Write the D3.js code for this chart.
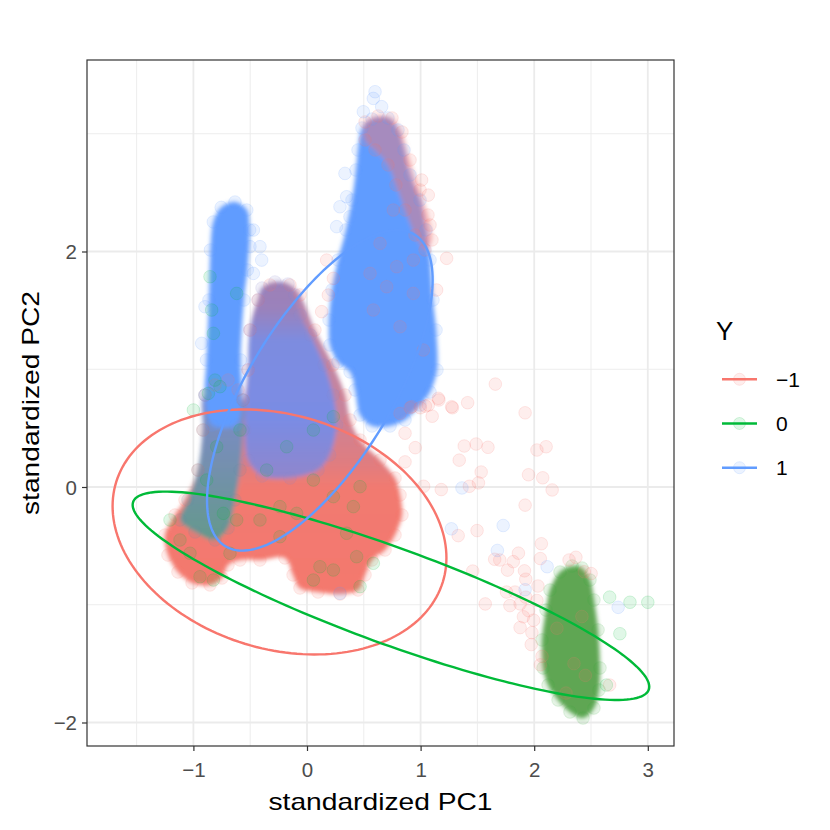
<!DOCTYPE html>
<html>
<head>
<meta charset="utf-8">
<script src="https://cdn.jsdelivr.net/npm/d3@7.9.0/dist/d3.min.js"></script>
<style>
  body { margin: 0; background: #fff; }
  svg { font-family: "Liberation Sans", Arial, sans-serif; }
</style>
</head>
<body>
<svg id="chart" width="830" height="830"></svg>
<script>
// axis ticks
const xTicks = [-1, 0, 1, 2, 3];
const xMinor = [-1.5, -0.5, 0.5, 1.5, 2.5];
const yTicks = [-2, 0, 2];
const yMinor = [-1, 1, 3];

const groups = ['-1', '0', '1'];
const groupLabels = ['\u22121', '0', '1'];
const groupColors = ['#F8766D', '#00BA38', '#619CFF'];

// dense regions of overlapping points, outlines (PC1, PC2)
const redBase = [[-1.250,-0.408],[-1.224,-0.578],[-1.136,-0.722],[-1.012,-0.815],[-0.854,-0.832],[-0.748,-0.773],[-0.695,-0.662],[-0.590,-0.620],[-0.414,-0.620],[-0.194,-0.603],[-0.123,-0.747],[-0.062,-0.858],[0.097,-0.892],[0.291,-0.909],[0.449,-0.875],[0.511,-0.747],[0.572,-0.620],[0.687,-0.535],[0.775,-0.408],[0.836,-0.238],[0.819,-0.068],[0.775,0.076],[0.643,0.229],[0.467,0.399],[0.379,0.569],[0.335,0.781],[0.229,1.036],[0.070,1.333],[-0.062,1.631],[-0.150,1.716],[-0.326,1.716],[-0.431,1.588],[-0.502,1.333],[-0.519,0.994],[-0.563,0.739],[-0.607,0.824],[-0.695,0.909],[-0.810,0.866],[-0.898,0.781],[-0.916,0.484],[-0.960,0.144],[-1.074,-0.110],[-1.162,-0.238]];
const leftColumn = [[-0.898,0.781],[-0.916,0.484],[-0.960,0.144],[-1.048,-0.110],[-1.118,-0.280],[-0.986,-0.382],[-0.810,-0.450],[-0.695,-0.348],[-0.634,-0.110],[-0.590,0.144],[-0.563,0.484],[-0.563,0.739]];
const middleSpike = [[-0.431,1.588],[-0.396,1.690],[-0.282,1.741],[-0.167,1.724],[-0.106,1.631],[-0.060,1.461],[0.030,1.291],[0.150,1.036],[0.230,0.781],[0.260,0.527],[0.200,0.272],[0.097,0.144],[-0.150,0.076],[-0.396,0.093],[-0.519,0.229],[-0.546,0.484],[-0.519,0.994],[-0.502,1.333]];
const leftSpike = [[-0.898,0.781],[-0.885,1.079],[-0.863,1.588],[-0.850,2.013],[-0.825,2.251],[-0.755,2.375],[-0.634,2.420],[-0.530,2.352],[-0.505,2.183],[-0.525,1.843],[-0.555,1.588],[-0.585,1.079],[-0.572,0.739],[-0.625,0.527],[-0.836,0.527]];
const rightBlob = [[0.484,3.049],[0.572,3.125],[0.713,3.134],[0.801,3.032],[0.854,2.862],[0.907,2.650],[0.995,2.437],[1.048,2.183],[1.083,1.928],[1.109,1.588],[1.136,1.333],[1.144,0.994],[1.083,0.807],[0.995,0.696],[0.863,0.569],[0.731,0.518],[0.572,0.518],[0.467,0.611],[0.423,0.824],[0.379,0.977],[0.273,1.062],[0.202,1.206],[0.194,1.418],[0.220,1.673],[0.273,1.928],[0.343,2.183],[0.396,2.437],[0.431,2.692],[0.449,2.862]];
const rightTipRed = [[0.511,3.100],[0.625,3.151],[0.748,3.134],[0.836,3.015],[0.907,2.777],[0.995,2.522],[1.065,2.310],[1.100,2.098],[1.039,2.013],[0.951,2.140],[0.863,2.352],[0.783,2.565],[0.713,2.735],[0.599,2.862],[0.511,2.947]];
const greenBlob = [[2.333,-0.671],[2.421,-0.688],[2.491,-0.790],[2.526,-0.960],[2.562,-1.214],[2.579,-1.537],[2.570,-1.724],[2.526,-1.877],[2.430,-1.962],[2.315,-1.911],[2.210,-1.809],[2.122,-1.682],[2.078,-1.537],[2.069,-1.299],[2.104,-1.045],[2.139,-0.875],[2.227,-0.722]];

// single points that stand out from the dense regions
const redPoints = [[1.658,0.874],[1.161,0.739],[1.414,0.716],[1.280,0.673],[1.102,0.601],[0.908,0.673],[0.997,0.673],[1.042,0.687],[1.920,0.630],[0.863,0.457],[0.953,0.334],[1.384,0.348],[1.489,0.365],[1.593,0.337],[1.340,0.228],[0.863,0.213],[2.024,0.314],[2.105,0.342],[1.950,0.104],[2.075,0.078],[2.158,-0.025],[1.533,0.127],[1.509,0.035],[1.429,0.006],[1.182,-0.022],[1.027,0.006],[1.920,-0.154],[1.331,-0.413],[1.497,-0.370],[2.063,-0.482],[1.861,-0.562],[1.652,-0.614],[1.697,-0.620],[1.816,-0.634],[1.765,-0.706],[2.054,-0.608],[1.914,-0.712],[1.926,-0.783],[1.459,-0.714],[1.569,-0.993],[1.756,-0.892],[1.831,-0.892],[1.786,-1.007],[2.033,-0.841],[2.024,-0.964],[1.926,-0.936],[1.876,-0.993],[1.950,-1.050],[1.905,-1.102],[1.995,-1.131],[1.876,-1.194],[1.980,-1.237],[1.974,-1.338],[2.069,-1.438],[2.054,-1.510],[2.307,-0.620],[2.367,-0.597],[2.441,-0.720],[2.501,-0.735],[2.664,-1.682],[1.229,1.942],[1.141,1.673],[1.068,2.479],[1.009,2.607],[1.083,2.225],[1.156,0.753],[1.273,0.682],[1.068,0.696],[0.921,0.682],[0.819,0.625],[0.188,1.630],[0.129,1.489],[0.173,1.927],[0.232,1.772],[0.643,2.069],[0.789,1.871],[0.936,1.644],[0.584,1.503],[0.819,1.361],[1.024,1.163],[0.936,1.927],[0.701,1.701],[0.555,1.814],[0.760,2.352],[2.200,-1.200],[2.350,-1.500],[2.420,-1.100],[2.280,-1.750],[2.450,-1.600]];
const greenPoints = [[2.664,-0.935],[2.843,-0.979],[3.000,-0.979],[2.754,-1.246],[2.635,-1.682],[-1.000,0.654],[-0.795,0.342],[-0.883,0.059],[-0.736,-0.224],[-0.619,-0.280],[-0.414,-0.280],[-0.238,-0.167],[-0.091,-0.224],[0.056,0.059],[0.232,-0.082],[0.408,-0.167],[0.467,0.003],[0.349,-0.393],[0.437,-0.592],[0.584,-0.648],[0.467,-0.846],[0.232,-0.705],[0.114,-0.677],[0.056,-0.790],[-0.824,-0.790],[-0.942,-0.762],[-1.030,-0.563],[-1.118,-0.450],[-1.206,-0.280],[-0.678,-0.563],[-0.238,-0.422],[-0.355,0.144],[-0.179,0.342],[-0.590,0.484],[0.232,0.597],[0.056,0.484],[-0.854,1.786],[-0.839,1.503],[-0.824,1.305],[-0.810,0.908],[-0.868,0.795],[-0.619,1.644],[-0.766,0.852]];
const bluePoints = [[1.364,-0.008],[1.271,-0.355],[1.727,-0.327],[1.676,-0.539],[1.920,-0.872],[2.114,-0.677],[2.739,-1.022],[0.599,3.357],[0.584,3.300],[0.496,3.187],[0.657,3.230],[0.334,2.663],[0.349,2.465],[0.290,2.380],[0.378,2.295],[0.261,2.211],[-0.898,1.531],[-0.472,2.182],[-0.414,2.041],[-0.399,1.927],[-0.472,1.814],[-0.502,2.041],[-0.927,1.220],[0.290,-0.903]];

// normal-probability ellipses: centre and shape matrix [sxx, sxy, syy]
const ellipseCenters = [[-0.242, -0.382], [0.739, -0.924], [0.113, 0.821]];
const ellipseShapes = [[2.159, -0.3215, 1.0823], [5.170, -1.7553, 0.7831], [0.986, 0.930, 1.853]];

const svg = d3.select('#chart');
const margin = { left: 87, top: 60, right: 674, bottom: 746 };

const x = d3.scaleLinear().domain([-1.9366, 3.2306]).range([margin.left, margin.right]);
const y = d3.scaleLinear().domain([-2.1996, 3.6263]).range([margin.bottom, margin.top]);

const defs = svg.append('defs');
defs.append('clipPath').attr('id', 'panel')
    .append('rect')
    .attr('x', margin.left).attr('y', margin.top)
    .attr('width', margin.right - margin.left).attr('height', margin.bottom - margin.top);
defs.append('filter').attr('id', 'soft')
    .append('feGaussianBlur').attr('stdDeviation', 2.2);

function gradient(id, stops) {
    let g = defs.append('linearGradient').attr('id', id)
        .attr('x1', 0).attr('y1', 0).attr('x2', 0).attr('y2', 1);
    stops.forEach(([off, col]) => g.append('stop').attr('offset', off).attr('stop-color', col));
}
gradient('gRed', [[0, '#B386B0'], [0.4, '#C8849C'], [0.58, '#E07D80'], [0.66, '#F27A70'], [1, '#F4796E']]);
gradient('gMid', [[0, '#9E80B6'], [0.14, '#9A82BC'], [0.3, '#7D8CE0'], [0.7, '#7A8CE4'], [1, '#9086CC']]);
gradient('gLeft', [[0, '#7C8AD0'], [0.5, '#7490AE'], [1, '#64998C']]);

// grid
svg.append('g').selectAll('line').data(xMinor).join('line')
    .attr('x1', (d) => x(d)).attr('x2', (d) => x(d))
    .attr('y1', margin.top).attr('y2', margin.bottom)
    .attr('stroke', '#EBEBEB').attr('stroke-width', 0.9);
svg.append('g').selectAll('line').data(yMinor).join('line')
    .attr('y1', (d) => y(d)).attr('y2', (d) => y(d))
    .attr('x1', margin.left).attr('x2', margin.right)
    .attr('stroke', '#EBEBEB').attr('stroke-width', 0.9);
svg.append('g').selectAll('line').data(xTicks).join('line')
    .attr('x1', (d) => x(d)).attr('x2', (d) => x(d))
    .attr('y1', margin.top).attr('y2', margin.bottom)
    .attr('stroke', '#EBEBEB').attr('stroke-width', 1.8);
svg.append('g').selectAll('line').data(yTicks).join('line')
    .attr('y1', (d) => y(d)).attr('y2', (d) => y(d))
    .attr('x1', margin.left).attr('x2', margin.right)
    .attr('stroke', '#EBEBEB').attr('stroke-width', 1.8);

const plot = svg.append('g').attr('clip-path', 'url(#panel)');

// dense regions
const area = d3.line().x((d) => x(d[0])).y((d) => y(d[1])).curve(d3.curveCatmullRomClosed);
const blobs = [
    { pts: redBase, fill: 'url(#gRed)', edge: '#F8766D' },
    { pts: leftColumn, fill: 'url(#gLeft)', edge: '#6C8FA6' },
    { pts: middleSpike, fill: 'url(#gMid)', edge: '#8C88D0' },
    { pts: leftSpike, fill: '#619CFF', edge: '#619CFF' },
    { pts: rightBlob, fill: '#619CFF', edge: '#619CFF' },
    { pts: rightTipRed, fill: 'rgba(236,122,126,0.5)', edge: '#F8766D' },
    { pts: greenBlob, fill: '#5FA652', edge: '#3FAE45' },
];
const blobLayer = plot.append('g').attr('filter', 'url(#soft)');
blobs.forEach((b) => {
    blobLayer.append('path').attr('d', area(b.pts)).attr('fill', b.fill);
});
blobs.forEach((b) => {
    plot.append('g').selectAll('circle').data(b.pts).join('circle')
        .attr('cx', (d) => x(d[0])).attr('cy', (d) => y(d[1])).attr('r', 6.3)
        .attr('fill', b.edge).attr('fill-opacity', 0.12)
        .attr('stroke', b.edge).attr('stroke-opacity', 0.15);
});

// single points
[redPoints, greenPoints, bluePoints].forEach((pts, i) => {
    plot.append('g').selectAll('circle').data(pts).join('circle')
        .attr('cx', (d) => x(d[0])).attr('cy', (d) => y(d[1])).attr('r', 6.3)
        .attr('fill', groupColors[i]).attr('fill-opacity', 0.12)
        .attr('stroke', groupColors[i]).attr('stroke-opacity', 0.16).attr('stroke-width', 1);
});

// ellipses
const ring = d3.line().x((d) => x(d[0])).y((d) => y(d[1])).curve(d3.curveLinearClosed);
ellipseCenters.forEach((c, i) => {
    let [sxx, sxy, syy] = ellipseShapes[i];
    let l11 = Math.sqrt(sxx), l21 = sxy / l11, l22 = Math.sqrt(syy - l21 * l21);
    let pts = d3.range(0, 361, 2).map((deg) => {
        let t = (deg * Math.PI) / 180;
        return [c[0] + l11 * Math.cos(t), c[1] + l21 * Math.cos(t) + l22 * Math.sin(t)];
    });
    plot.append('path').attr('d', ring(pts))
        .attr('fill', 'none').attr('stroke', groupColors[i]).attr('stroke-width', 2.4);
});

// panel border and axes
svg.append('rect')
    .attr('x', margin.left).attr('y', margin.top)
    .attr('width', margin.right - margin.left).attr('height', margin.bottom - margin.top)
    .attr('fill', 'none').attr('stroke', '#333333').attr('stroke-width', 1.2);

const fmt = (d) => (d < 0 ? '\u2212' + Math.abs(d) : d);
const xAxis = svg.append('g').attr('transform', `translate(0,${margin.bottom})`)
    .call(d3.axisBottom(x).tickValues(xTicks).tickSize(5).tickPadding(5).tickFormat(fmt));
const yAxis = svg.append('g').attr('transform', `translate(${margin.left},0)`)
    .call(d3.axisLeft(y).tickValues(yTicks).tickSize(5).tickPadding(5).tickFormat(fmt));
[xAxis, yAxis].forEach((a) => {
    a.select('.domain').remove();
    a.selectAll('line').attr('stroke', '#333333').attr('stroke-width', 1.2);
    a.selectAll('text').attr('fill', '#4D4D4D').attr('font-size', 20.5)
        .attr('font-family', '"Liberation Sans", Arial, sans-serif');
});
xAxis.selectAll('text').attr('dy', null).attr('y', 31);
yAxis.selectAll('text').attr('dy', '0.36em');

svg.append('text').attr('x', (margin.left + margin.right) / 2).attr('y', 810)
    .attr('text-anchor', 'middle').attr('font-size', 24).attr('fill', '#000')
    .attr('textLength', 224).attr('lengthAdjust', 'spacingAndGlyphs')
    .text('standardized PC1');
svg.append('text')
    .attr('transform', `translate(39,${(margin.top + margin.bottom) / 2}) rotate(-90)`)
    .attr('text-anchor', 'middle').attr('font-size', 24).attr('fill', '#000')
    .attr('textLength', 224).attr('lengthAdjust', 'spacingAndGlyphs')
    .text('standardized PC2');

// legend
const legend = svg.append('g');
legend.append('text').attr('x', 716).attr('y', 340).attr('font-size', 26).text('Y');
groups.forEach((g, i) => {
    let cy = 379.3 + i * 44.2;
    legend.append('line').attr('x1', 722).attr('x2', 757).attr('y1', cy).attr('y2', cy)
        .attr('stroke', groupColors[i]).attr('stroke-width', 2.6);
    legend.append('circle').attr('cx', 739.5).attr('cy', cy).attr('r', 6)
        .attr('fill', groupColors[i]).attr('fill-opacity', 0.12)
        .attr('stroke', groupColors[i]).attr('stroke-opacity', 0.16);
    legend.append('text').attr('x', 776).attr('y', cy + 7.5).attr('font-size', 21)
        .attr('fill', '#000').text(groupLabels[i]);
});
</script>
</body>
</html>
